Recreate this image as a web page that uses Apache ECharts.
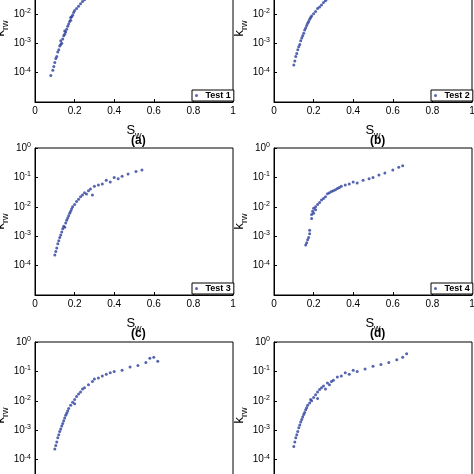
<!DOCTYPE html>
<html>
<head>
<meta charset="utf-8">
<script src="https://cdn.jsdelivr.net/npm/echarts@6/dist/echarts.min.js"></script>
<style>html,body{margin:0;background:#fff}#main{width:474px;height:474px}</style>
</head>
<body>
<div id="main"></div>
<script>
// [Sw, krw] pairs
var test1 = [[0.08,8e-5],[0.09,1.2e-4],[0.095,1.6e-4],[0.1,2.2e-4],[0.105,3e-4],[0.11,3.5e-4],[0.115,5e-4],[0.12,6e-4],[0.125,8e-4],[0.13,9e-4],[0.13,1.2e-3],[0.135,1e-3],[0.14,1.4e-3],[0.145,1.8e-3],[0.15,2e-3],[0.15,2.6e-3],[0.155,2.4e-3],[0.16,3e-3],[0.165,3.8e-3],[0.17,4.5e-3],[0.175,5.5e-3],[0.18,6e-3],[0.18,7.5e-3],[0.185,8e-3],[0.19,9e-3],[0.195,1.1e-2],[0.2,1.3e-2],[0.21,1.5e-2],[0.22,1.8e-2],[0.23,2.2e-2],[0.24,2.6e-2],[0.25,3e-2],[0.26,3.4e-2],[0.27,4e-2],[0.29,4.5e-2],[0.3,5e-2]];
var test2 = [[0.1,1.8e-4],[0.105,2.5e-4],[0.11,3.5e-4],[0.115,4.5e-4],[0.12,6e-4],[0.125,7.5e-4],[0.13,9e-4],[0.135,1.2e-3],[0.14,1.5e-3],[0.145,1.8e-3],[0.15,2.2e-3],[0.155,2.8e-3],[0.16,3.3e-3],[0.165,4e-3],[0.17,4.8e-3],[0.175,5.5e-3],[0.18,6.5e-3],[0.185,7.5e-3],[0.19,8.5e-3],[0.2,1e-2],[0.21,1.2e-2],[0.22,1.5e-2],[0.23,1.7e-2],[0.24,2e-2],[0.25,2.4e-2],[0.26,2.8e-2],[0.27,3.2e-2],[0.28,3.6e-2],[0.3,4.2e-2],[0.32,5e-2]];
var test3 = [[0.1,2.3e-4],[0.105,3e-4],[0.11,4e-4],[0.115,5.5e-4],[0.12,7e-4],[0.125,9e-4],[0.13,1.1e-3],[0.135,1.4e-3],[0.14,1.8e-3],[0.145,2.2e-3],[0.15,2e-3],[0.155,2.8e-3],[0.16,3.5e-3],[0.165,4.2e-3],[0.17,5e-3],[0.175,6e-3],[0.18,7e-3],[0.185,8.5e-3],[0.19,1e-2],[0.2,1.2e-2],[0.21,1.5e-2],[0.22,1.8e-2],[0.23,2.2e-2],[0.24,2.5e-2],[0.25,3e-2],[0.26,2.7e-2],[0.27,3.5e-2],[0.28,4e-2],[0.29,2.5e-2],[0.3,5e-2],[0.32,5.5e-2],[0.34,6e-2],[0.36,8e-2],[0.38,7e-2],[0.4,1e-1],[0.42,9e-2],[0.44,1.1e-1],[0.47,1.3e-1],[0.51,1.6e-1],[0.54,1.8e-1]];
var test4 = [[0.16,5e-4],[0.165,6e-4],[0.17,7.5e-4],[0.175,9e-4],[0.18,1.2e-3],[0.18,1.6e-3],[0.19,4e-3],[0.19,5.5e-3],[0.195,7e-3],[0.2,6e-3],[0.2,9e-3],[0.21,1e-2],[0.21,8e-3],[0.22,1.2e-2],[0.23,1.4e-2],[0.24,1.7e-2],[0.25,1.9e-2],[0.26,2.2e-2],[0.27,2.8e-2],[0.28,3e-2],[0.29,3.3e-2],[0.3,3.5e-2],[0.31,3.8e-2],[0.32,4.2e-2],[0.33,4.5e-2],[0.34,5e-2],[0.36,5.5e-2],[0.38,6e-2],[0.4,7e-2],[0.42,6.5e-2],[0.45,8e-2],[0.48,9e-2],[0.5,1e-1],[0.53,1.2e-1],[0.56,1.4e-1],[0.6,1.8e-1],[0.63,2.2e-1],[0.65,2.5e-1]];
var test5 = [[0.1,2.3e-4],[0.105,3e-4],[0.11,4e-4],[0.115,5.5e-4],[0.12,7e-4],[0.125,9e-4],[0.13,1.1e-3],[0.135,1.4e-3],[0.14,1.7e-3],[0.145,2.1e-3],[0.15,2.6e-3],[0.155,3.2e-3],[0.16,3.8e-3],[0.165,4.5e-3],[0.17,5.5e-3],[0.18,7e-3],[0.19,9e-3],[0.2,1.1e-2],[0.2,8e-3],[0.21,1.4e-2],[0.22,1.7e-2],[0.23,2e-2],[0.24,2.5e-2],[0.25,2.8e-2],[0.27,3.5e-2],[0.29,4.5e-2],[0.3,5.5e-2],[0.32,6e-2],[0.34,7e-2],[0.36,8e-2],[0.38,9e-2],[0.4,1e-1],[0.44,1.1e-1],[0.48,1.4e-1],[0.52,1.6e-1],[0.56,2e-1],[0.58,2.8e-1],[0.6,3e-1],[0.62,2.2e-1]];
var test6 = [[0.1,2.8e-4],[0.105,4e-4],[0.11,5.5e-4],[0.115,7e-4],[0.12,9e-4],[0.125,1.2e-3],[0.13,1.5e-3],[0.135,1.9e-3],[0.14,2.3e-3],[0.145,2.8e-3],[0.15,3.4e-3],[0.155,4e-3],[0.16,5e-3],[0.165,5.8e-3],[0.17,7e-3],[0.18,8.5e-3],[0.185,1.1e-2],[0.19,1e-2],[0.2,1.3e-2],[0.21,1.6e-2],[0.22,2e-2],[0.22,1.2e-2],[0.23,2.4e-2],[0.24,2.8e-2],[0.25,3.2e-2],[0.26,2.5e-2],[0.27,4e-2],[0.28,3.5e-2],[0.29,4.5e-2],[0.3,5e-2],[0.32,6.5e-2],[0.34,7e-2],[0.36,9e-2],[0.38,8e-2],[0.4,1.1e-1],[0.42,1e-1],[0.46,1.2e-1],[0.5,1.5e-1],[0.54,1.7e-1],[0.58,2e-1],[0.62,2.5e-1],[0.65,3e-1],[0.67,4e-1]];
var tests = [test1, test2, test3, test4, test5, test6];
var names = ['Test 1', 'Test 2', 'Test 3', 'Test 4', 'Test 5', 'Test 6'];
var panelTags = ['(a)', '(b)', '(c)', '(d)', '(e)', '(f)'];

var lefts = [35, 274], width = 198;
var tops = [-45, 148, 342], height = 147;
var font = 'Liberation Sans';

var grid = [], xAxis = [], yAxis = [], series = [], legend = [], title = [];
for (var i = 0; i < 6; i++) {
  var c = i % 2, r = Math.floor(i / 2);
  grid.push({ left: lefts[c], top: tops[r], width: width, height: height, show: true,
    borderColor: '#000', borderWidth: 1, containLabel: false, outerBoundsMode: 'none' });
  xAxis.push({
    gridIndex: i, type: 'value', min: 0, max: 1, interval: 0.2,
    name: 'S{s|w}', nameLocation: 'middle', nameGap: 19,
    nameTextStyle: { fontFamily: font, fontSize: 13, color: '#000', rich: { s: { fontSize: 9, padding: [10, 0, 0, 0] } } },
    axisLine: { lineStyle: { color: '#000' } },
    axisTick: { inside: true, length: 3 },
    splitLine: { show: false },
    axisLabel: { fontFamily: font, fontSize: 10, color: '#000', margin: 4 }
  });
  yAxis.push({
    gridIndex: i, type: 'log', logBase: 10, min: 1e-5, max: 1,
    name: 'k{s|rw}', nameLocation: 'middle', nameGap: 21, nameRotate: 90,
    nameTextStyle: { fontFamily: font, fontSize: 13, color: '#000', rich: { s: { fontSize: 9, padding: [10, 0, 0, 0] } } },
    axisLine: { show: true, lineStyle: { color: '#000' } },
    axisTick: { inside: true, length: 3 },
    splitLine: { show: false },
    axisLabel: {
      fontFamily: font, fontSize: 10, color: '#000', margin: 4,
      formatter: function (v) {
        var e = Math.round(Math.log10(v));
        return e === -5 ? '' : '10{e|' + e + '}';
      },
      rich: { e: { fontSize: 7, padding: [0, 0, 6, 0] } }
    }
  });
  series.push({
    name: names[i], type: 'scatter', xAxisIndex: i, yAxisIndex: i,
    symbol: 'circle', symbolSize: 3, itemStyle: { color: '#2c3e9c' },
    data: tests[i]
  });
  legend.push({
    data: [names[i]], left: lefts[c] + width - 41, top: tops[r] + height - 12,
    padding: [1, 3], itemGap: 2, itemWidth: 8, itemHeight: 3,
    borderColor: '#000', borderWidth: 1, backgroundColor: '#fff',
    textStyle: { fontFamily: font, fontSize: 9, fontWeight: 'bold', color: '#000' }
  });
  title.push({
    text: panelTags[i], left: lefts[c] + width / 2 - 8, top: tops[r] + height + 28,
    textStyle: { fontFamily: font, fontSize: 12, fontWeight: 'bold', color: '#000' }
  });
}

var chart = echarts.init(document.getElementById('main'));
chart.setOption({
  animation: false,
  title: title, grid: grid, xAxis: xAxis, yAxis: yAxis, legend: legend, series: series
});
</script>
</body>
</html>
